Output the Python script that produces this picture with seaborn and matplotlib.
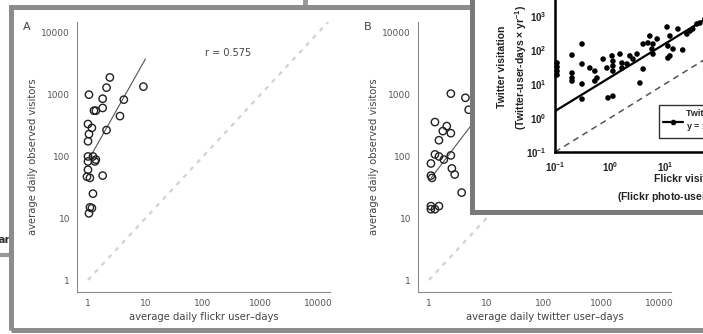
import numpy as np
import pandas as pd
import seaborn as sns
import matplotlib.pyplot as plt
from matplotlib.patches import Rectangle
from matplotlib.lines import Line2D
from matplotlib.ticker import LogLocator, NullFormatter

sns.set_style('white')
plt.rcParams['font.family'] = ['DejaVu Sans']
plt.rcParams['mathtext.fontset'] = 'custom'
plt.rcParams['mathtext.rm'] = 'Liberation Sans'
plt.rcParams['mathtext.bf'] = 'Liberation Sans:bold'

# 패널 A: flickr 이용일 vs 관측 방문자
flickr_days = [2.4, 2.1, 1.04, 1.8, 4.2, 9.2, 1.27, 1.37, 1.8, 3.6, 1.0, 1.17, 1.04, 1.0,
               2.1, 1.0, 1.22, 1.37, 1.0, 1.32, 1.0, 1.08, 0.96, 1.8, 1.22, 1.08, 1.17, 1.04]
flickr_obs = [1900, 1300, 1000, 860, 830, 1350, 550, 550, 610, 450, 335, 290, 230, 176,
              267, 100, 100, 89, 83, 83, 61, 45, 47, 49, 25, 15, 14.6, 12]
fit_a = (85, 1.65)          # y = a * x^b
fit_a_range = [1.08, 10]
r_text = 'r = 0.575'

# 패널 B: twitter 이용일 vs 관측 방문자
twitter_days = [2.4, 4.3, 4.9, 1.27, 1.74, 2.04, 2.4, 1.49, 1.27, 1.49, 1.81, 2.4, 1.08,
                1.08, 1.13, 2.5, 2.8, 3.7, 1.08, 1.27, 1.49, 1.08]
twitter_obs = [1040, 890, 570, 360, 257, 310, 238, 183, 108, 100, 89, 104, 77,
               49, 45, 64, 51, 26, 14, 14, 15.7, 15.7]
fit_b = (40.5, 1.22)
fit_b_range = [1.1, 30]

# 삽입 그림: Flickr vs Twitter 방문
inset_flickr = [0.109, 0.109, 0.109, 0.109, 0.204, 0.31, 0.204, 0.204, 0.204, 0.31, 0.31, 0.31,
                0.43, 0.53, 0.53, 0.58, 0.75, 0.88, 1.09, 1.13, 1.13, 1.13, 0.92, 1.13, 1.52,
                1.65, 1.65, 2.04, 2.62, 3.1, 3.5, 4.0, 5.3, 5.8, 6.05, 6.05, 10.9, 11.3, 14,
                12.3, 21, 25, 28.5, 32, 38, 43, 53, 7.2, 17.2, 12.3, 2.3, 4.0, 4.9, 11.3]
inset_twitter = [41.5, 31.6, 24.1, 18.4, 71, 150, 21, 15, 12.2, 38.7, 10, 3.6,
                 29.6, 24, 12.2, 15, 54, 29.6, 67, 47, 34, 24, 3.9, 4.4, 76,
                 41.5, 29.6, 38.7, 54, 76, 10.7, 27.6, 258, 107, 150, 76, 475, 131, 107,
                 67, 100, 295, 362, 415, 582, 622, 816, 211, 415, 258, 67, 150, 161, 58]
fit_in = (15.6, 0.99)
fit_in_range = [0.1, 1000]

decades = [1, 10, 100, 1000, 10000]
decade_labels = ['1', '10', '100', '1000', '10000']
in_decades = [0.1, 1, 10, 100, 1000, 10000]
in_labels = [r'$\mathbf{10^{-1}}$', r'$\mathbf{10^{0}}$', r'$\mathbf{10^{1}}$',
             r'$\mathbf{10^{2}}$', r'$\mathbf{10^{3}}$', r'$\mathbf{10^{4}}$']

W, H = 703, 334


def px(l, t, r, b):
    return [l / W, 1 - b / H, (r - l) / W, (b - t) / H]


fig = plt.figure(figsize=(W / 100, H / 100), dpi=100)

# 배경 조각들 (잘린 다른 그림)
fig.text(-2 / W, 1 - 240 / H, 'ar', fontsize=8, fontweight='bold', color='#333',
         va='center', ha='left', zorder=0.5)
fig.add_artist(Line2D([0, 9 / W], [1 - 255 / H] * 2, color='#999', lw=3,
                      transform=fig.transFigure, zorder=0.5))
fig.add_artist(Line2D([305 / W] * 2, [1, 1 - 5 / H], color='#999', lw=3.5,
                      transform=fig.transFigure, zorder=0.5))


def obs_panel(ax, xs, ys, fit, fit_range, letter, xlabel):
    ax.set_xscale('log')
    ax.set_yscale('log')
    diag = np.array([1, 20000])
    sns.lineplot(x=diag, y=diag, ax=ax, color='#d2d2d2', lw=1.6,
                 linestyle=(0, (2, 2.5)), zorder=1)
    fx = np.array(fit_range)
    sns.lineplot(x=fx, y=fit[0] * fx ** fit[1], ax=ax, color='#555', lw=0.8, zorder=2)
    sns.scatterplot(x=xs, y=ys, ax=ax, marker='o', s=28, facecolor='none',
                    edgecolor='#222', linewidth=1.0, zorder=3)
    ax.set_xlim(0.644, 16200)
    ax.set_ylim(0.64, 15000)
    sns.despine(ax=ax)
    for s in ('left', 'bottom'):
        ax.spines[s].set_color('#8a8a8a')
        ax.spines[s].set_linewidth(0.8)
    ax.set_xticks(decades, labels=decade_labels)
    ax.set_yticks(decades, labels=decade_labels)
    for axis in (ax.xaxis, ax.yaxis):
        axis.set_minor_locator(LogLocator(base=10, subs=range(2, 10), numticks=20))
        axis.set_minor_formatter(NullFormatter())
    ax.tick_params(which='major', direction='in', length=9, width=0.8, color='#666',
                   labelsize=6.5, labelcolor='#555', pad=5)
    ax.tick_params(which='minor', direction='in', length=4, width=0.6, color='#888')
    ax.set_xlabel(xlabel, fontsize=7.2, color='#444', va='center')
    ax.xaxis.set_label_coords(0.5, -25 / 270)
    ax.set_ylabel('average daily observed visitors', fontsize=7.2, color='#444', va='center')
    ax.yaxis.set_label_coords(-44 / 253, 0.5)
    ax.text(-54 / 253, 0.981, letter, transform=ax.transAxes, fontsize=8, color='#444',
            va='center', ha='left')
    ax.patch.set_alpha(0)


ax_a = fig.add_axes(px(77, 22, 330, 292), zorder=1)
obs_panel(ax_a, flickr_days, flickr_obs, fit_a, fit_a_range, 'A',
          'average daily flickr user\u2013days')
ax_a.text(128 / 253, 1 - 31 / 270, r_text, transform=ax_a.transAxes, fontsize=7,
          color='#444', va='center', ha='left')

ax_b = fig.add_axes(px(418, 22, 671, 292), zorder=1)
obs_panel(ax_b, twitter_days, twitter_obs, fit_b, fit_b_range, 'B',
          'average daily twitter user\u2013days')

# 바깥 회색 테두리
fig.add_artist(Rectangle((10.5 / W, 1 - 329.5 / H), 720 / W, 323 / H, fill=False,
                         ec='#8c8c8c', lw=3.6, transform=fig.transFigure, zorder=2))
# 삽입 그림 테두리
fig.add_artist(Rectangle((471.5 / W, 1 - 211.5 / H), 300 / W, 230 / H, fc='white',
                         ec='#7a7a7a', lw=3.6, transform=fig.transFigure, zorder=3))

ax_in = fig.add_axes(px(555, -18, 830, 152), zorder=4)
ax_in.set_xscale('log')
ax_in.set_yscale('log')
line = np.array([0.1, 10000])
sns.lineplot(x=line, y=line, ax=ax_in, color='#555', lw=1.1, linestyle=(0, (4, 3)))
fx = np.array(fit_in_range)
sns.lineplot(x=fx, y=fit_in[0] * fx ** fit_in[1], ax=ax_in, color='black', lw=1.6)
sns.scatterplot(x=inset_flickr, y=inset_twitter, ax=ax_in, s=16, color='black',
                edgecolor='none', zorder=5, clip_on=False)
ax_in.set_xlim(0.1, 10000)
ax_in.set_ylim(0.1, 10000)
sns.despine(ax=ax_in)
for s in ('left', 'bottom'):
    ax_in.spines[s].set_color('black')
    ax_in.spines[s].set_linewidth(1.8)
ax_in.set_xticks(in_decades, labels=in_labels)
ax_in.set_yticks(in_decades, labels=in_labels)
for axis in (ax_in.xaxis, ax_in.yaxis):
    axis.set_minor_locator(LogLocator(base=10, subs=range(2, 10), numticks=20))
    axis.set_minor_formatter(NullFormatter())
ax_in.tick_params(which='major', direction='out', length=4, width=1.2, color='black',
                  labelsize=7, pad=2)
ax_in.tick_params(which='minor', direction='out', length=2.5, width=0.9, color='black')
ax_in.set_xlabel('Flickr visitation\n(Flickr photo-user-days \u00d7 yr$^{\\mathbf{-1}}$)',
                 fontsize=7.5, fontweight='bold', family='Liberation Sans', linespacing=1.5,
                 va='center', color='#222')
ax_in.xaxis.set_label_coords(0.5, -37.5 / 170)
ax_in.set_ylabel('Twitter visitation\n(Twitter-user-days \u00d7 yr$^{\\mathbf{-1}}$)',
                 fontsize=7.5, fontweight='bold', family='Liberation Sans', linespacing=1.5,
                 va='center', color='#222')
ax_in.yaxis.set_label_coords(-42 / 275, 0.5)
ax_in.patch.set_alpha(0)
for lab in ax_in.get_xticklabels() + ax_in.get_yticklabels():
    lab.set_color('#222')

handle = Line2D([], [], color='black', lw=1.6, marker='o', markersize=3)
leg = ax_in.legend([handle], ['Twitter visitation\ny = 15.6x$^{0.99}$'],
                   loc='upper left', bbox_to_anchor=(654 / W, 1 - 100 / H),
                   bbox_transform=fig.transFigure, frameon=True, fancybox=False,
                   prop={'family': 'Liberation Sans', 'weight': 'bold', 'size': 6.5},
                   borderpad=0.5, handlelength=2.2, handletextpad=0.4)
leg.get_frame().set_edgecolor('black')
leg.get_frame().set_linewidth(1.0)

fig.savefig('out.png', dpi=100)
